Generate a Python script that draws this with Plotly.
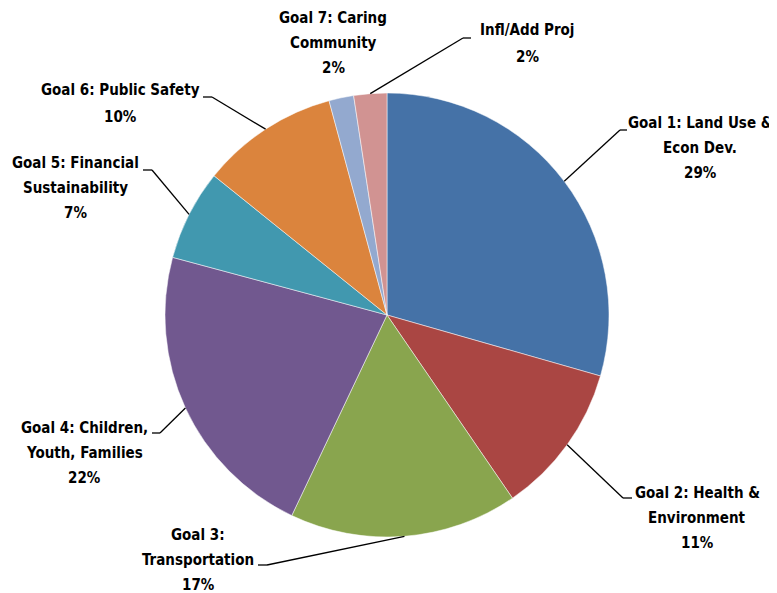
import math
import plotly.graph_objects as go

# ---- data ----
categories = ["Goal 1: Land Use & Econ Dev.", "Goal 2: Health & Environment",
              "Goal 3: Transportation", "Goal 4: Children, Youth, Families",
              "Goal 5: Financial Sustainability", "Goal 6: Public Safety",
              "Goal 7: Caring Community", "Infl/Add Proj"]
values = [29.4, 11.0, 16.6, 22.1, 6.6, 10.0, 1.8, 2.4]
label_lines = [["Goal 1: Land Use &amp;", "Econ Dev."],
               ["Goal 2: Health &amp;", "Environment"],
               ["Goal 3:", "Transportation"],
               ["Goal 4: Children,", "Youth, Families"],
               ["Goal 5: Financial", "Sustainability"],
               ["Goal 6: Public Safety"],
               ["Goal 7: Caring", "Community"],
               ["Infl/Add Proj"]]
colors = ["#4572A7", "#AA4643", "#89A54E", "#71588F",
          "#4198AF", "#DB843D", "#93A9CF", "#D19392"]

# ---- layout constants (page pixels) ----
W, H = 777, 593
OFF = 8  # default page body margin
CX, CY, R = 387, 315, 222
# label centre x and first-line y
label_pos = [(700, 123), (697, 493), (198, 535), (84, 428),
             (75, 163), (120, 90), (333, 18), (527, 30)]
line_gap = [25, 25, 25, 25, 25, 27, 25, 27]
leader_pts = [((620, 130), (627, 130)), ((623, 498), (632, 498)),
              ((267, 565), (258, 565)), ((160, 433), (152, 433)),
              ((152, 170), (143, 170)), ((212, 97), (203, 97)),
              None, ((463, 38), (471, 38))]

FONT = "Liberation Sans Narrow, Arial Narrow, DejaVu Sans Condensed, sans-serif"

def px(x):
    return (x - OFF) / W

def py(y):
    return 1 - (y - OFF) / H

fig = go.Figure(go.Pie(
    labels=categories, values=values, sort=False, direction="clockwise",
    rotation=0, textinfo="none", hoverinfo="label+percent",
    marker=dict(colors=colors, line=dict(color="white", width=0.5)),
    domain=dict(x=[px(CX - R), px(CX + R)], y=[py(CY + R), py(CY - R)]),
))

total = sum(values)
cum = 0.0
annotations = []
shapes = []
for i, v in enumerate(values):
    mid = (cum + v / 2) / total * 2 * math.pi
    cum += v
    ax = CX + R * math.sin(mid)
    ay = CY - R * math.cos(mid)
    pct = f"{round(v / total * 100)}%"
    lines = label_lines[i] + [pct]
    lx, ly = label_pos[i]
    for k, t in enumerate(lines):
        annotations.append(dict(
            x=px(lx), y=py(ly + k * line_gap[i]), xref="paper", yref="paper",
            text=f"<b>{t}</b>", showarrow=False, xanchor="center",
            yanchor="middle", align="center",
            font=dict(family=FONT, size=15, color="black")))
    if leader_pts[i] is not None:
        (ex, ey), (tx, ty) = leader_pts[i]
        for (x0, y0, x1, y1) in [(ax, ay, ex, ey), (ex, ey, tx, ty)]:
            shapes.append(dict(type="line", xref="paper", yref="paper",
                               x0=px(x0), y0=py(y0), x1=px(x1), y1=py(y1),
                               line=dict(color="black", width=1.3)))

fig.update_layout(
    width=W, height=H, margin=dict(l=0, r=0, t=0, b=0),
    paper_bgcolor="white", plot_bgcolor="white", showlegend=False,
    annotations=annotations, shapes=shapes,
)
fig.write_html("out.html")
